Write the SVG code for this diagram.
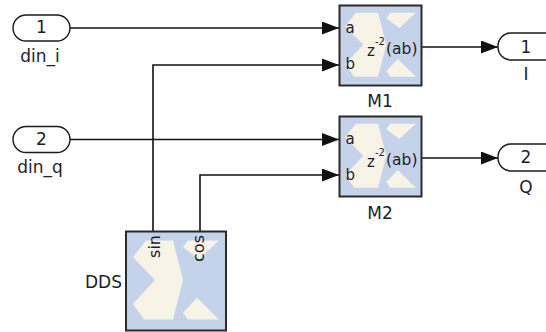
<svg xmlns="http://www.w3.org/2000/svg" xmlns:xlink="http://www.w3.org/1999/xlink" width="546" height="332" viewBox="0 0 546 332">
<style>
  .port{fill:#ffffff;stroke:#1a1a1a;stroke-width:1.4}
  .blk{fill:#c5d3ea;stroke:#2a2a2a;stroke-width:2}
  .logo{fill:#f7f3e7}
  .lbl{font-family:"DejaVu Sans",sans-serif;font-size:17px;fill:#1e1e2a}
  .pin{font-family:"DejaVu Sans",sans-serif;font-size:15px;fill:#1e1e2a}
  .wire{fill:none;stroke:#111;stroke-width:1.6}
</style>
<defs>
  <marker id="arr" markerUnits="userSpaceOnUse" markerWidth="17" markerHeight="13" refX="17" refY="6.5" orient="auto">
    <path d="M0,0 L17,6.5 L0,13 z" fill="#111"/>
  </marker>
  <symbol id="xlogo" viewBox="0 0 100 100" preserveAspectRatio="none">
    <polygon class="logo" points="20,9 47,9 57,49 47,89 18,89 7,73 29,49 7,26"/>
    <polygon class="logo" points="62,9 93,9 73,28 57,16"/>
    <polygon class="logo" points="71,67 93,89 62,89 57,82"/>
  </symbol>
</defs>

<g id="connectors">
  <path class="wire" d="M70,28 H339" marker-end="url(#arr)"/>
  <path class="wire" d="M153,231 V65 H339" marker-end="url(#arr)"/>
  <path class="wire" d="M70,139.5 H339" marker-end="url(#arr)"/>
  <path class="wire" d="M200,231 V175 H339" marker-end="url(#arr)"/>
  <path class="wire" d="M421,47 H498" marker-end="url(#arr)"/>
  <path class="wire" d="M421,158 H498" marker-end="url(#arr)"/>
</g>

<g id="din_i">
  <rect class="port" x="13" y="15" width="57" height="26" rx="13"/>
  <text class="lbl" x="41.5" y="33" text-anchor="middle">1</text>
  <text class="lbl" x="40" y="62" text-anchor="middle">din_i</text>
</g>

<g id="din_q">
  <rect class="port" x="13" y="126.5" width="57" height="26" rx="13"/>
  <text class="lbl" x="41.5" y="145" text-anchor="middle">2</text>
  <text class="lbl" x="40" y="173" text-anchor="middle">din_q</text>
</g>

<g id="M1">
  <rect class="blk" x="339.5" y="5.5" width="82" height="80"/>
  <use xlink:href="#xlogo" href="#xlogo" x="339.5" y="5.5" width="82" height="80"/>
  <text class="pin" x="345.5" y="33">a</text>
  <text class="pin" x="345.5" y="69">b</text>
  <text class="pin" x="367" y="56">z</text>
  <text class="pin" x="375" y="45" style="font-size:10px">-2</text>
  <text class="pin" x="386" y="54" style="font-size:15.5px">(ab)</text>
  <text class="lbl" x="380" y="107" text-anchor="middle">M1</text>
</g>

<g id="M2">
  <rect class="blk" x="339.5" y="116.5" width="82" height="80"/>
  <use xlink:href="#xlogo" href="#xlogo" x="339.5" y="116.5" width="82" height="80"/>
  <text class="pin" x="345.5" y="144">a</text>
  <text class="pin" x="345.5" y="180">b</text>
  <text class="pin" x="367" y="167">z</text>
  <text class="pin" x="375" y="156" style="font-size:10px">-2</text>
  <text class="pin" x="386" y="165" style="font-size:15.5px">(ab)</text>
  <text class="lbl" x="380" y="219" text-anchor="middle">M2</text>
</g>

<g id="DDS">
  <rect class="blk" x="126" y="231.5" width="100" height="99"/>
  <use xlink:href="#xlogo" href="#xlogo" x="126" y="231.5" width="100" height="99"/>
  <text class="lbl" transform="translate(159.5,235) rotate(-90)" text-anchor="end" style="font-size:16px">sin</text>
  <text class="lbl" transform="translate(203.5,235) rotate(-90)" text-anchor="end" style="font-size:16px">cos</text>
  <text class="lbl" x="122" y="288" text-anchor="end">DDS</text>
</g>

<g id="I">
  <rect class="port" x="498" y="33" width="62" height="27" rx="13"/>
  <text class="lbl" x="526" y="53" text-anchor="middle">1</text>
  <text class="lbl" x="526" y="80" text-anchor="middle">I</text>
</g>

<g id="Q">
  <rect class="port" x="498" y="144" width="62" height="27" rx="13"/>
  <text class="lbl" x="526" y="163" text-anchor="middle">2</text>
  <text class="lbl" x="526" y="193" text-anchor="middle">Q</text>
</g>
</svg>
